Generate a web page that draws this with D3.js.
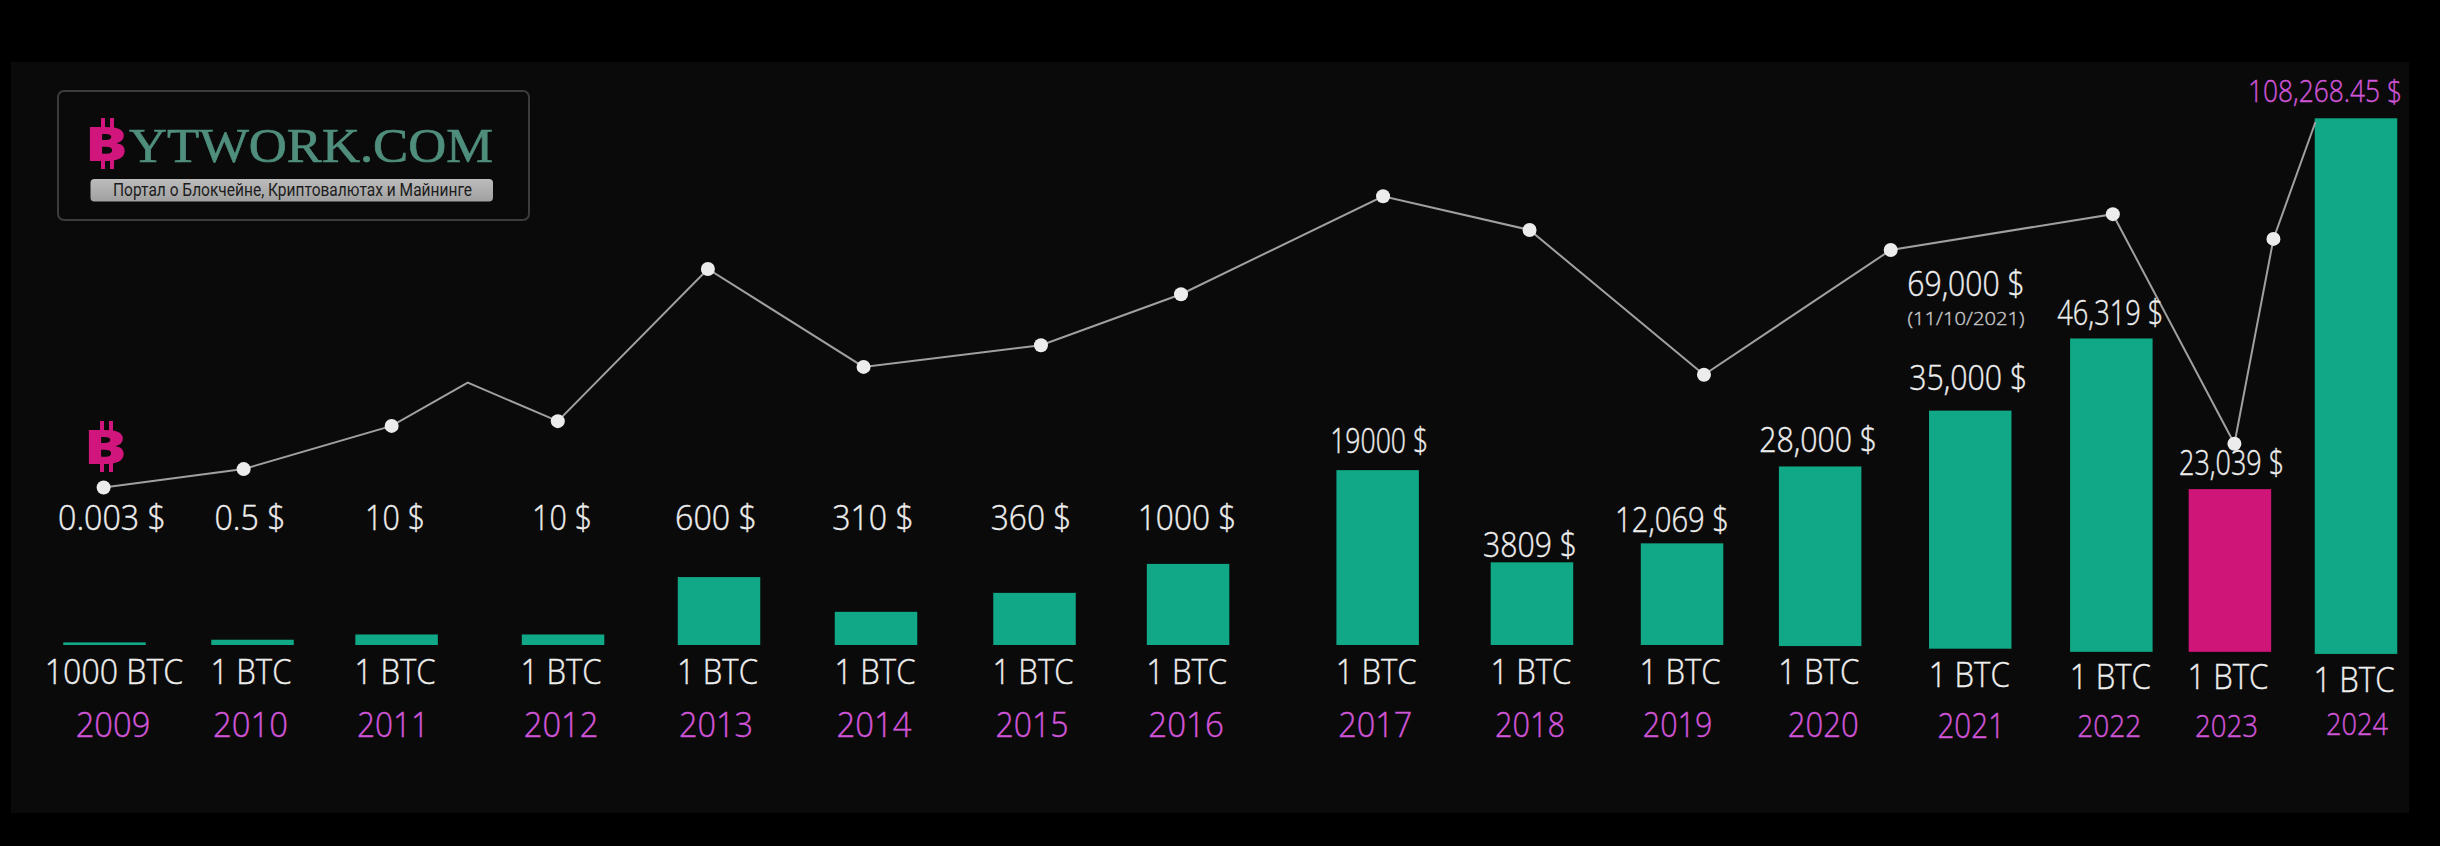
<!DOCTYPE html>
<html>
<head>
<meta charset="utf-8">
<script src="https://cdn.jsdelivr.net/npm/d3@7"></script>
<style>
  html, body { margin: 0; background: #000; overflow: hidden; }
  svg { display: block; }
</style>
</head>
<body>
<svg id="chart"></svg>
<script>
"use strict";

// data
const years = ["2009","2010","2011","2012","2013","2014","2015","2016","2017","2018","2019","2020","2021","2022","2023","2024"];
const prices = ["0.003 $","0.5 $","10 $","10 $","600 $","310 $","360 $","1000 $","19000 $","3809 $","12,069 $","28,000 $","35,000 $","46,319 $","23,039 $","108,268.45 $"];
const amounts = ["1000 BTC","1 BTC","1 BTC","1 BTC","1 BTC","1 BTC","1 BTC","1 BTC","1 BTC","1 BTC","1 BTC","1 BTC","1 BTC","1 BTC","1 BTC","1 BTC"];
// the bars do not follow the dollar figures, so they are read as a 0-100 index
const barTop = [0.5,1.0,2.0,2.0,12.9,6.3,9.9,15.4,33.2,15.7,19.3,33.9,44.5,58.2,29.6,100];
const barFloor = [0,0,0,0,0,0,0,0,0,0,0,-0.2,-0.7,-1.3,-1.3,-1.7];
// position along the time axis, years are not evenly spread in the picture
const slots = [0,0.986,1.946,3.055,4.094,5.14,6.196,7.219,8.482,9.51,10.51,11.43,12.43,13.37,14.16,15];

const lineSlot = [-0.006,0.927,1.913,2.42,3.02,4.02,5.057,6.239,7.172,8.518,9.494,10.656,11.9,13.38,14.19,14.45,14.73];
const lineLevel = [29.9,33.4,41.6,49.8,42.5,71.4,52.8,56.9,66.6,85.2,78.8,51.3,75,81.8,38.2,77.1,99.3];
const lineDot = [1,1,1,0,1,1,1,1,1,1,1,1,1,1,1,1,0];

// label nudges and fitted widths
const priceDx = [7.5,-2.5,-1.5,-1,-3,-3,-3.5,-1,1.5,-2,-10,-2,-2,-1,1.6,-31];
const priceY = [530,530,530,530,530,530,530,530,453,557,531.7,451.7,390,325,475,101.7];
const priceW = [108,71,60,60,82,81.5,80.6,98.5,98,94,114,118,118,106,105,154];
const amountDx = [9.5,-1.5,-1.5,-2,-1.5,-1,-1.5,-1.4,-1.5,-1,-2,-1.4,-1,-1,-2,-2];
const amountY = [684.3,684.3,684.3,684.3,684.3,684.3,684.3,684.3,684.3,684.3,684.3,684,686.7,689,689,691.7];
const amountW = [138.5,81,81,81,81,81,81,81,81,81,81,81,81,81,81,81];
const yearDx = [8.5,-2,-3.5,-2,-3,-2,-2.5,-2,-2.5,-2,-4.5,3,1,-2,-3.5,1];
const yearY = [736.7,736.7,736.7,736.7,736.7,736.7,736.7,736.7,736.7,736.7,736.7,736.7,737.5,736.7,736.7,735];
const yearW = [74.6,75,72,74.5,74,74.8,73,75.5,74,70,69.5,71,67.5,64,63,62];

const width = 2440;
const height = 846;
const barW = 82.5;
const font = "'Open Sans', sans-serif";
const white = "#eeeeee";
const violet = "#d055d8";

const svg = d3.select("#chart").attr("width", width).attr("height", height);

const x = d3.scaleLinear().domain([0, 15]).range([104.5, 2356]);
const y = d3.scaleLinear().domain([0, 100]).range([645, 118.3]);

svg.append("rect").attr("width", width).attr("height", height).attr("fill", "#000");
svg.append("rect")
  .attr("x", 11).attr("y", 62)
  .attr("width", 2398).attr("height", 751)
  .attr("fill", "#0a0a0a");

const pill = svg.append("defs").append("linearGradient")
  .attr("id", "pill").attr("x1", 0).attr("y1", 0).attr("x2", 0).attr("y2", 1);
pill.append("stop").attr("offset", 0).attr("stop-color", "#bcbcbc");
pill.append("stop").attr("offset", 1).attr("stop-color", "#a0a0a0");

// logo
const logo = svg.append("g");
logo.append("rect")
  .attr("x", 58).attr("y", 91)
  .attr("width", 471).attr("height", 129)
  .attr("rx", 6)
  .attr("fill", "#0a0a0a")
  .attr("stroke", "#3c3c3c")
  .attr("stroke-width", 2);
logo.append("text")
  .attr("x", 129).attr("y", 161.7)
  .attr("font-family", "'Liberation Serif', serif")
  .attr("font-size", 48)
  .attr("textLength", 364)
  .attr("lengthAdjust", "spacingAndGlyphs")
  .attr("fill", "#4f8e7c")
  .attr("stroke", "#4f8e7c")
  .attr("stroke-width", 0.7)
  .text("YTWORK.COM");
logo.append("rect")
  .attr("x", 90.5).attr("y", 179)
  .attr("width", 402.5).attr("height", 22.5)
  .attr("rx", 4)
  .attr("fill", "url(#pill)");
logo.append("text")
  .attr("x", 113).attr("y", 196)
  .attr("font-family", "Roboto, sans-serif")
  .attr("font-size", 18)
  .attr("textLength", 359)
  .attr("lengthAdjust", "spacingAndGlyphs")
  .attr("fill", "#1c1c1c")
  .text("Портал о Блокчейне, Криптовалютах и Майнинге");

// bitcoin sign: bold B with the little ticks
function coin(px, py) {
  const g = svg.append("g").attr("transform", `translate(${px},${py})`).attr("fill", "#d0157c");
  [11, 20].forEach((tx) => {
    g.append("rect").attr("x", tx).attr("y", 0).attr("width", 4).attr("height", 10);
    g.append("rect").attr("x", tx).attr("y", 41).attr("width", 4).attr("height", 10);
  });
  g.append("text")
    .attr("transform", "translate(-5,43) scale(1.32,1)")
    .attr("font-family", "'Open Sans', sans-serif")
    .attr("font-weight", 800)
    .attr("font-size", 48)
    .text("B");
}
coin(90, 118);
coin(89, 421);

// bars
const bars = years.map((year, i) => ({
  year,
  top: barTop[i],
  floor: barFloor[i],
  slot: slots[i],
  price: prices[i],
  amount: amounts[i],
  i,
}));

svg.append("g")
  .selectAll("rect")
  .data(bars)
  .join("rect")
  .attr("x", (d) => x(d.slot) - barW / 2)
  .attr("y", (d) => y(d.top))
  .attr("width", barW)
  .attr("height", (d) => y(d.floor) - y(d.top))
  .attr("fill", (d) => (d.year === "2023" ? "#cf1578" : "#10a887"));

// line
const points = lineSlot.map((s, i) => ({ slot: s, level: lineLevel[i], dot: lineDot[i] }));
const line = d3.line().x((d) => x(d.slot)).y((d) => y(d.level));

svg.append("path")
  .datum(points)
  .attr("d", line)
  .attr("fill", "none")
  .attr("stroke", "#a0a0a0")
  .attr("stroke-width", 2);

svg.append("g")
  .selectAll("circle")
  .data(points.filter((d) => d.dot))
  .join("circle")
  .attr("cx", (d) => x(d.slot))
  .attr("cy", (d) => y(d.level))
  .attr("r", 7)
  .attr("fill", "#ececec");

// labels, each fitted to the width it has in the original face
// light weight plus a hair of stroke sits closest to the original thickness
function labels(rows, getText, getX, getY, getW, size, color) {
  svg.append("g")
    .selectAll("text")
    .data(rows)
    .join("text")
    .attr("x", getX)
    .attr("y", getY)
    .attr("textLength", getW)
    .attr("lengthAdjust", "spacingAndGlyphs")
    .attr("text-anchor", "middle")
    .attr("font-family", font)
    .attr("font-weight", 300)
    .attr("font-size", size)
    .attr("fill", color)
    .attr("stroke", color)
    .attr("stroke-width", 0.4)
    .text(getText);
}

labels(bars.slice(0, 15), (d) => d.price, (d) => x(d.slot) + priceDx[d.i], (d) => priceY[d.i], (d) => priceW[d.i], 34, white);
labels(bars.slice(15), (d) => d.price, (d) => x(d.slot) + priceDx[d.i], (d) => priceY[d.i], (d) => priceW[d.i], 31, violet);
labels(bars, (d) => d.amount, (d) => x(d.slot) + amountDx[d.i], (d) => amountY[d.i], (d) => amountW[d.i], 35, white);
labels(bars.slice(0, 13), (d) => d.year, (d) => x(d.slot) + yearDx[d.i], (d) => yearY[d.i], (d) => yearW[d.i], 34, violet);
labels(bars.slice(13), (d) => d.year, (d) => x(d.slot) + yearDx[d.i], (d) => yearY[d.i], (d) => yearW[d.i], 31, violet);

// the extra all-time-high note above 2021
labels([{}], () => "69,000 $", () => 1966, () => 295.5, () => 117.5, 34, white);
labels([{}], () => "(11/10/2021)", () => 1966, () => 325, () => 117, 19, "#c8c8c8");
</script>
</body>
</html>
